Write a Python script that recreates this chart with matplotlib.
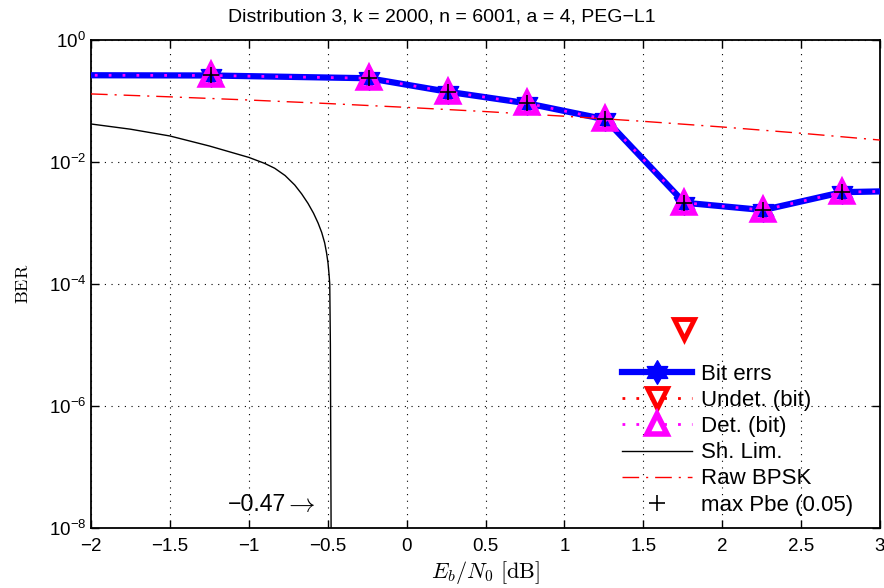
import numpy as np
import matplotlib
matplotlib.use("Agg")
import matplotlib.pyplot as plt
import matplotlib.transforms as mtransforms
from matplotlib.path import Path

plt.rcParams['font.family'] = ['Liberation Sans', 'DejaVu Sans']
plt.rcParams['mathtext.fontset'] = 'custom'
plt.rcParams['mathtext.rm'] = 'Liberation Sans'
plt.rcParams['mathtext.it'] = 'Liberation Sans:italic'
plt.rcParams['mathtext.sf'] = 'Liberation Sans'

# ---- data ----
ebn0 = [-2.24, -1.24, -0.24, 0.26, 0.76, 1.26, 1.76, 2.26, 2.76, 3.26]
bit_errs = [0.265, 0.262, 0.236, 0.142, 0.092, 0.050, 2.15e-3, 1.63e-3, 3.2e-3, 3.4e-3]
undet_bit = [np.nan, np.nan, np.nan, np.nan, np.nan, np.nan, 1.85e-5, np.nan, np.nan, np.nan]
det_bit = [0.265, 0.262, 0.236, 0.142, 0.092, 0.050, 2.15e-3, 1.63e-3, 3.2e-3, 3.4e-3]
max_pbe = [0.265, 0.262, 0.236, 0.142, 0.092, 0.050, 2.15e-3, 1.63e-3, 3.2e-3, 3.4e-3]

shlim_x = [-2.0, -1.75, -1.5, -1.25, -1.0, -0.9, -0.836, -0.77, -0.709, -0.665, -0.625,
           -0.59, -0.561, -0.538, -0.519, -0.507, -0.498, -0.491, -0.487, -0.483, -0.48, -0.477]
shlim_y = [0.042, 0.0345, 0.0267, 0.0183, 0.0119, 9.5e-3, 7.9e-3, 6.0e-3, 4.2e-3, 3.0e-3, 2.1e-3,
           1.45e-3, 1.0e-3, 7.0e-4, 4.7e-4, 3.2e-4, 2.2e-4, 1.4e-4, 1.0e-4, 1e-5, 1e-7, 1e-9]

bpsk_x = [-2.0, -1.5, -1.0, -0.5, 0.0, 0.5, 1.0, 1.5, 2.0, 2.5, 3.0]
bpsk_y = [0.1306, 0.117, 0.1038, 0.0909, 0.0786, 0.0671, 0.0563, 0.0464, 0.0375, 0.0296, 0.0229]

xticks = [-2, -1.5, -1, -0.5, 0, 0.5, 1, 1.5, 2, 2.5, 3]
xticklabels = ['\u22122', '\u22121.5', '\u22121', '\u22120.5', '0', '0.5', '1', '1.5', '2', '2.5', '3']
yticks = [1e-8, 1e-6, 1e-4, 1e-2, 1e0]

# hexagram marker shape
ang = np.pi / 2 + np.arange(12) * np.pi / 6
rad = np.where(np.arange(12) % 2 == 0, 1.0, 0.58)
verts = np.column_stack([rad * np.cos(ang), rad * np.sin(ang)])
verts = np.vstack([verts, verts[:1]])
hexagram = Path(verts, [Path.MOVETO] + [Path.LINETO] * 11 + [Path.CLOSEPOLY])

fig = plt.figure(figsize=(8.84, 5.88), dpi=100)
ax = fig.add_axes([91 / 884, 60 / 588, 789 / 884, 488 / 588])

ax.semilogy(ebn0, bit_errs, color='blue', lw=4.5, marker=hexagram, ms=17,
            mfc='blue', mec='blue', label='Bit errs', zorder=3)
ax.semilogy(ebn0, undet_bit, color='red', lw=2, ls=(0, (1, 4)), marker='v', ms=14,
            mfc='none', mec='red', mew=3.5, label='Undet. (bit)', zorder=4)
ax.semilogy(ebn0, det_bit, color='magenta', lw=2, ls=(0, (1, 4)), marker='^', ms=14,
            mfc='none', mec='magenta', mew=4, label='Det. (bit)', zorder=5)
ax.semilogy(shlim_x, shlim_y, color='black', lw=1.0, label='Sh. Lim.', zorder=3)
ax.semilogy(bpsk_x, bpsk_y, color='red', lw=1.0, ls=(0, (12, 5, 1.5, 5)), label='Raw BPSK', zorder=3)
ax.semilogy(ebn0, max_pbe, ls='none', marker='+', ms=11, mew=1.2, color='black',
            label='max Pbe (0.05)', zorder=6)

ax.set_xlim(-2, 3)
ax.set_ylim(1e-8, 1)
ax.set_xticks(xticks)
ax.set_xticklabels(xticklabels)
ax.set_yticks(yticks)
ax.yaxis.set_minor_locator(matplotlib.ticker.NullLocator())
ax.tick_params(direction='in', top=True, right=True, labelsize=13.5, length=6, width=1)
ax.tick_params(axis='x', pad=7)
ax.grid(True, which='major', ls=(0, (1, 5)), color='black', lw=0.8)
for s in ax.spines.values():
    s.set_linewidth(1.3)

ax.set_title('Distribution 3, k = 2000, n = 6001, a = 4, PEG\u2212L1', fontsize=14, pad=13,
             x=(442 - 91) / 789)
ax.set_xlabel(r'$E_b/N_0\ \mathrm{[dB]}$', fontsize=16, math_fontfamily='cm', labelpad=3)
ax.set_ylabel(r'$\mathrm{BER}$', fontsize=13, math_fontfamily='cm', labelpad=12)

# Shannon-limit annotation: number + long arrow, sharing one baseline
ann_x, ann_y = -0.58, 10 ** -7.72
ax.text(ann_x, ann_y, r'$\rightarrow$', fontsize=19, math_fontfamily='cm',
        ha='right', va='baseline')
num_tr = mtransforms.offset_copy(ax.transData, fig=fig, x=-29, y=0, units='dots')
ax.text(ann_x, ann_y, '\u22120.47', fontsize=16.7, ha='right', va='baseline', transform=num_tr)

leg = ax.legend(loc='upper left', bbox_to_anchor=(622 / 884, 1 - 364 / 588),
                bbox_transform=fig.transFigure, frameon=False, fontsize=16,
                handlelength=3.15, handletextpad=0.4, labelspacing=0.23,
                borderpad=0, borderaxespad=0)

fig.savefig('out.png', dpi=100)
